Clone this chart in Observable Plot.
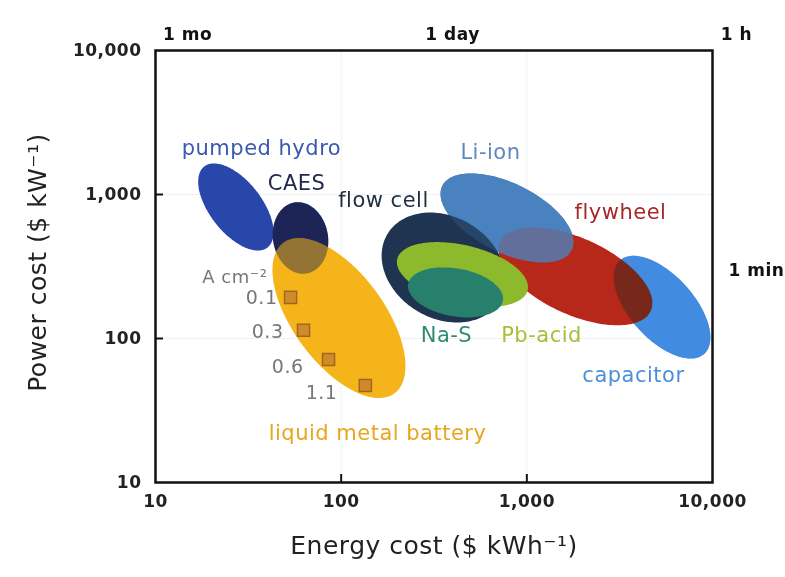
<!DOCTYPE html>
<html><head><meta charset="utf-8">
<script src="https://cdn.jsdelivr.net/npm/d3@7"></script>
<script src="https://cdn.jsdelivr.net/npm/@observablehq/plot@0.6"></script>
<style>body{margin:0;background:#fff;}</style>
</head><body><div id="chart"></div>
<script>
// ---- data ----
const technologies = ["pumped hydro","CAES","liquid metal battery","flow cell","Pb-acid","Na-S","Li-ion","flywheel","capacitor"];
const centerEnergy = [27.1, 60.4, 97.3, 356, 450, 413, 782, 1828, 5346];   // $ kWh^-1
const centerPower  = [819, 499, 138.8, 311, 278, 209, 687, 270, 165];     // $ kW^-1
const semiMajor    = [0.277, 0.194, 0.504, 0.352, 0.361, 0.259, 0.389, 0.446, 0.339]; // decades
const semiMinor    = [0.140, 0.148, 0.245, 0.274, 0.158, 0.129, 0.186, 0.205, 0.172]; // decades
const tilt         = [52, 80, 53.6, 30.6, 13.4, 10, 26.4, 24.7, 47.9];     // degrees
const techColor    = ["#2947ab","#1c2557","#f4b41a","#1e3450","#8cba2c","#26806c","#4a82be","#b8281a","#418be0"];

const labelText   = ["pumped hydro","CAES","flow cell","Li-ion","flywheel","Na-S","Pb-acid","capacitor","liquid metal battery"];
const labelEnergy = [37.2, 57.5, 169, 637, 3196, 369, 1200, 3753, 157];
const labelPower  = [2086, 1192, 908, 1957, 750, 105, 105, 55.3, 21.9];
const labelColor  = ["#3a5aae","#23284f","#1f2f3f","#6088c0","#a8282a","#2f8b74","#a3c23a","#4a90d8","#e9a51c"];

const densityText        = ["0.1","0.3","0.6","1.1"];
const densityEnergy      = [53.4, 62.7, 85.5, 135];
const densityPower       = [193, 114, 71.5, 47.2];
const densityLabelEnergy = [45.4, 48.9, 62.7, 95.5];
const densityLabelPower  = [190, 112, 63.9, 42.2];
const densityUnit = "A cm⁻²";
const densityUnitEnergy = 40.1, densityUnitPower = 265;

const energyTicks = [10, 100, 1000, 10000];
const powerTicks  = [10, 100, 1000, 10000];
const topLabels = ["1 mo","1 day","1 h"];
const topLabelEnergy = [14.9, 398, 13460];
const sideLabel = "1 min";
const sideLabelPower = 296;

// ---- layout ----
const W = 785, H = 577;
const mT = 50, mR = 73, mB = 95, mL = 155;
const innerW = W - mL - mR, innerH = H - mT - mB;
const aspect = innerW / innerH;

function outline(i) {
  const pts = [];
  const th = tilt[i] * Math.PI / 180;
  const n = 144;
  for (let k = 0; k < n; k++) {
    const t = 2 * Math.PI * k / n;
    const u = semiMajor[i] * Math.cos(t), v = semiMinor[i] * Math.sin(t);
    const dx = u * Math.cos(th) - v * Math.sin(th);
    const dy = (u * Math.sin(th) + v * Math.cos(th)) * aspect;
    pts.push({energy: centerEnergy[i] * Math.pow(10, dx), power: centerPower[i] * Math.pow(10, -dy)});
  }
  return pts;
}
function ell(name, opts = {}) {
  const i = technologies.indexOf(name);
  return Plot.line(outline(i), {x: "energy", y: "power", curve: "linear-closed",
    fill: opts.fill || techColor[i], stroke: "none", ...opts});
}

const labels = labelText.map((t, i) => ({t, e: labelEnergy[i], p: labelPower[i], c: labelColor[i]}));
const squares = densityText.map((t, i) => ({t, e: densityEnergy[i], p: densityPower[i], le: densityLabelEnergy[i], lp: densityLabelPower[i]}));

const chart = Plot.plot({
  width: W, height: H,
  marginTop: mT, marginRight: mR, marginBottom: mB, marginLeft: mL,
  style: {fontFamily: "'DejaVu Sans', sans-serif", letterSpacing: "0.5px", background: "#fff", overflow: "visible"},
  x: {type: "log", domain: [10, 10000]},
  y: {type: "log", domain: [10, 10000]},
  color: {type: "identity"},
  marks: [
    Plot.gridX([100, 1000], {stroke: "#bbb", strokeOpacity: 0.2}),
    Plot.gridY([100, 1000], {stroke: "#bbb", strokeOpacity: 0.2}),
    ell("pumped hydro"),
    ell("CAES"),
    ell("liquid metal battery"),
    ell("CAES", {opacity: 0.45}),
    Plot.dot(squares, {x: "e", y: "p", symbol: "square", r: 6.8, fill: "#cf8a2c", stroke: "#a3661f", strokeWidth: 1.5}),
    ell("capacitor"),
    ell("Li-ion"),
    ell("flywheel"),
    ell("capacitor", {opacity: 0.55, mixBlendMode: "darken"}),
    ell("Li-ion", {opacity: 0.72}),
    ell("flow cell"),
    ell("Li-ion", {opacity: 0.22}),
    ell("Pb-acid"),
    ell("Na-S"),
    Plot.frame({stroke: "#111", strokeWidth: 2.5}),
    Plot.ruleX([100, 1000], {insetTop: innerH - 8, stroke: "#111", strokeWidth: 2}),
    Plot.ruleY([100, 1000], {insetRight: innerW - 8, stroke: "#111", strokeWidth: 2}),
    Plot.axisX({ticks: energyTicks, tickFormat: d3.format(","), tickSize: 0, tickPadding: 12, fontSize: 17, fontWeight: "bold", label: null, fill: "#222"}),
    Plot.axisY({ticks: powerTicks, tickFormat: d3.format(","), tickSize: 0, tickPadding: 14, fontSize: 17, fontWeight: "bold", label: null, fill: "#222"}),
    Plot.text(labels, {x: "e", y: "p", text: "t", fill: "c", fontSize: 21}),
    Plot.text(squares, {x: "le", y: "lp", text: "t", textAnchor: "end", fill: "#777", fontSize: 19}),
    Plot.text([densityUnit], {x: densityUnitEnergy, y: densityUnitPower, textAnchor: "end", fill: "#777", fontSize: 18}),
    Plot.text(topLabels, {x: (d, i) => topLabelEnergy[i], frameAnchor: "top", dy: -23, text: d => d, fontSize: 17, fontWeight: "bold", fill: "#111"}),
    Plot.text([sideLabel], {y: sideLabelPower, frameAnchor: "right", dx: 16, textAnchor: "start", fontSize: 17, fontWeight: "bold", fill: "#111"}),
    Plot.text(["Energy cost ($ kWh⁻¹)"], {frameAnchor: "bottom", dy: 71, fontSize: 25, fill: "#222"}),
    Plot.text(["Power cost ($ kW⁻¹)"], {frameAnchor: "left", dx: -118, dy: -4, rotate: -90, textAnchor: "middle", fontSize: 25, fill: "#222"})
  ]
});
document.getElementById("chart").appendChild(chart);
</script>
</body></html>
